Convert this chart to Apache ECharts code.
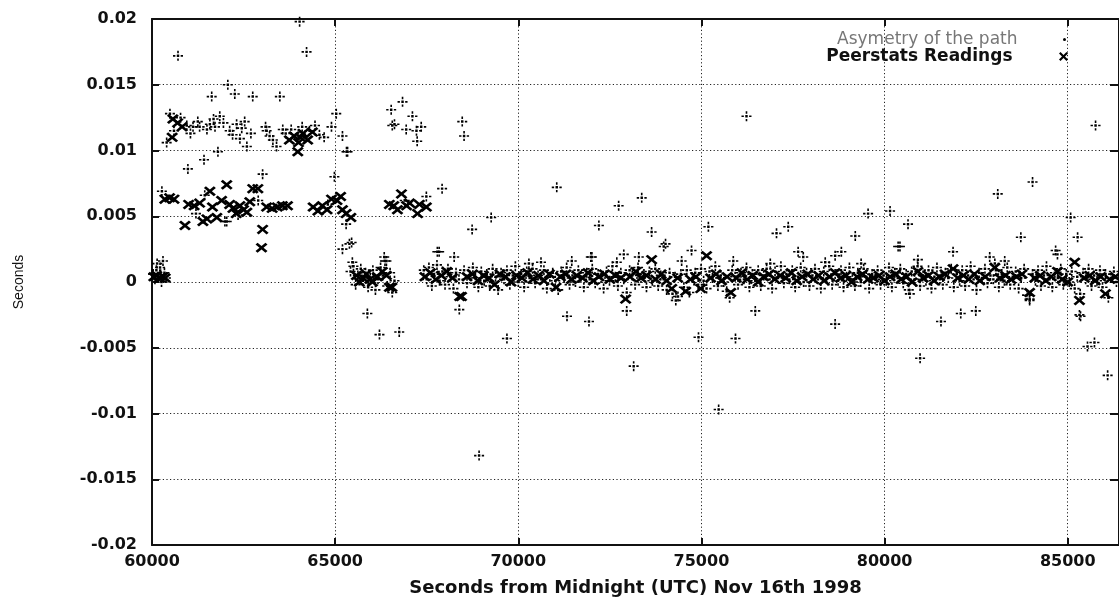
<!DOCTYPE html>
<html>
<head>
<meta charset="utf-8">
<script src="https://cdn.jsdelivr.net/npm/echarts@6/dist/echarts.min.js"></script>
<style>
    html, body { margin: 0; padding: 0; background: #fff; }
    #chart { width: 1119px; height: 605px; }
</style>
</head>
<body>
<div id="chart"></div>
<script>
// values: [seconds from midnight, seconds]
var asymStart = [[60030,0.0006],[60080,0.0002],[60120,0.0009],[60170,0.0004],[60220,0.0011],[60260,0.0000],[60300,0.0016],[60340,0.0007],[60380,0.0003],[60140,0.0014]];

var asymUpper = [[60710,0.0172],[64030,0.0198],[64220,0.0175],[62070,0.0150],[62260,0.0143],[62750,0.0141],[61630,0.0141],[63490,0.0141],
    [65030,0.0128],[60490,0.0128],[60400,0.0106],[60950,0.0119],[61120,0.0118],[61300,0.0118],[61580,0.0120],[61720,0.0118],[61850,0.0126],
    [62120,0.0115],[62310,0.0120],[62530,0.0122],[62400,0.0109],[62590,0.0103],[63130,0.0115],[63210,0.0111],[63400,0.0103],[63570,0.0116],
    [64570,0.0112],[64900,0.0118],[65200,0.0111],[65340,0.0099],[61800,0.0099],[61420,0.0093],[60980,0.0086],[63020,0.0082],[64980,0.0080],
    [60600,0.0115],[60780,0.0125],[61050,0.0113],[61250,0.0122],[61500,0.0116],[61680,0.0124],[61950,0.0121],[62200,0.0112],[62450,0.0117],
    [62700,0.0113],[63300,0.0108],[63650,0.0113],[63800,0.0116],[64100,0.0118],[64300,0.0115],[64450,0.0119],[64700,0.0110],[63100,0.0118],
    [65310,0.0099],[66530,0.0131],[66620,0.0120],[66840,0.0137],[67110,0.0126],[66560,0.0119],[66940,0.0116],[67220,0.0115],[67350,0.0118],
    [67240,0.0107],[68470,0.0122],[68520,0.0111]];

var asymMiddle = [[60270,0.0069],[61200,0.0052],[61440,0.0066],[61990,0.0046],[62040,0.0046],[62350,0.0051],[62900,0.0062],[64800,0.0059],
    [65300,0.0044],[66900,0.0062],[65390,0.0029],[65200,0.0025],[65450,0.0030],[67920,0.0071],[67490,0.0065],[68740,0.0040],[69260,0.0049],
    [71050,0.0072],[72740,0.0058],[73370,0.0064],[72200,0.0043],[73640,0.0038],[73970,0.0027],[76230,0.0126],[75190,0.0042],[77050,0.0037],
    [85760,0.0119],[84040,0.0076],[83090,0.0067],[77370,0.0042],[79200,0.0035],[79550,0.0052],[80150,0.0054],[80640,0.0044],[80370,0.0027],
    [83720,0.0034],[85080,0.0049],[85270,0.0034],[84670,0.0024],[74020,0.0029],[80420,0.0027]];

var asymLow = [[65880,-0.0024],[66210,-0.0040],[66750,-0.0038],[68390,-0.0021],[69690,-0.0043],[68930,-0.0132],[71330,-0.0026],[71930,-0.0030],
    [72960,-0.0022],[73150,-0.0064],[74920,-0.0042],[75470,-0.0097],[75930,-0.0043],[76470,-0.0022],[78650,-0.0032],[80970,-0.0058],
    [81540,-0.0030],[82080,-0.0024],[82490,-0.0022],[80690,-0.0009],[83960,-0.0013],[85320,-0.0025],[85540,-0.0049],[85730,-0.0046],
    [86090,-0.0071],[74300,-0.0014],[85350,-0.0026]];

var asymNearZero = [[66340,0.0019],[67840,0.0023],[68250,0.0019],[66400,0.0016],[65470,0.0015],[72010,0.0019],[72880,0.0021],[74730,0.0024],
    [67790,0.0023],[81870,0.0023],[77640,0.0023],[78650,0.0020],[73290,0.0019],[71980,0.0019],[71460,0.0016],[72690,0.0015],[74460,0.0016],
    [70290,0.0014],[70620,0.0015],[77780,0.0019],[75870,0.0016],[78820,0.0023],[79360,0.0014],[76880,0.0014],[78380,0.0015],[80910,0.0017],
    [82870,0.0019],[83280,0.0016],[84720,0.0021],[83010,0.0014],
    [65420,0.0008],[65500,0.0012],[65560,-0.0002],[65620,0.0005],[65700,0.0010],[65760,0.0001],[65830,0.0007],[65900,-0.0004],[65960,0.0003],
    [66030,0.0009],[66100,-0.0006],[66170,0.0002],[66240,0.0011],[66300,0.0005],[66360,0.0016],[66420,-0.0003],[66500,0.0007],[66560,-0.0008],[66620,0.0001]];

var asymBand = [[67420,0.0009],[67500,0.0002],[67560,0.0011],[67640,-0.0003],[67700,0.0006],[67780,0.0013],[67850,0.0001],[67930,0.0008],
    [68000,-0.0002],[68080,0.0010],[68150,0.0004],[68230,-0.0005],[68300,0.0007],[68380,0.0002],[68520,0.0009],[68600,-0.0001],[68680,0.0005],
    [68760,0.0011],[68830,0.0003],[68910,-0.0004],[68990,0.0008],[69070,0.0001],[69140,0.0006],[69220,-0.0003],[69300,0.0010],[69380,0.0004],
    [69450,-0.0006],[69530,0.0007],[69610,0.0002],[69690,0.0009],[69770,-0.0002],[69850,0.0005],[69920,0.0012],[70000,0.0000],[70080,0.0006],
    [70160,-0.0004],[70230,0.0008],[70310,0.0003],[70390,0.0010],[70460,-0.0001],[70540,0.0005],[70620,0.0002],[70700,0.0009],[70780,-0.0005],
    [70860,0.0004],[70940,0.0007],[71010,0.0001],[71090,-0.0006],[71170,0.0008],[71250,0.0003],[71320,0.0011],[71400,-0.0002],[71480,0.0005],
    [71560,0.0000],[71640,0.0009],[71710,0.0004],[71790,-0.0004],[71870,0.0007],[71950,0.0002],[72020,0.0010],[72100,-0.0001],[72180,0.0006],
    [72260,0.0003],[72330,-0.0005],[72410,0.0008],[72490,0.0001],[72570,0.0012],[72650,0.0004],[72720,-0.0003],[72800,0.0007],[72880,0.0002],
    [72960,-0.0008],[73040,0.0009],[73110,0.0005],[73190,-0.0002],[73270,0.0011],[73350,0.0003],[73430,0.0006],[73500,-0.0004],[73580,0.0008],
    [73660,0.0001],[73740,0.0010],[73820,-0.0003],[73890,0.0005],[73970,0.0002],[74050,-0.0006],[74130,0.0007],[74210,-0.0009],[74280,0.0004],
    [74360,-0.0011],[74440,0.0006],[74520,-0.0004],[74600,0.0009],[74670,-0.0008],[74750,0.0003],[74830,0.0007],[74910,-0.0002],[74990,0.0010],
    [75060,0.0001],[75140,-0.0005],[75220,0.0008],[75300,0.0003],[75380,0.0012],[75450,-0.0003],[75530,0.0005],[75610,0.0000],[75690,-0.0007],
    [75770,-0.0012],[75840,0.0009],[75920,0.0004],[76000,-0.0002],[76080,0.0007],[76160,0.0002],[76230,0.0011],[76310,-0.0004],[76390,0.0006],
    [76470,0.0001],[76550,0.0009],[76620,-0.0003],[76700,0.0005],[76780,0.0010],[76860,0.0002],[76930,-0.0005],[77010,0.0008],[77090,0.0003],
    [77170,0.0012],[77250,-0.0001],[77320,0.0006],[77400,0.0002],[77480,0.0009],[77560,-0.0004],[77640,0.0004],[77710,0.0011],[77790,0.0000],
    [77870,0.0007],[77950,-0.0003],[78030,0.0005],[78100,0.0010],[78180,0.0002],[78260,-0.0005],[78340,0.0008],[78420,0.0003],[78490,0.0012],
    [78570,-0.0002],[78650,0.0006],[78730,0.0001],[78810,0.0009],[78880,-0.0004],[78960,0.0004],[79040,0.0011],[79120,0.0002],[79190,-0.0003],
    [79270,0.0007],[79350,0.0000],[79430,0.0010],[79500,0.0004],[79580,-0.0005],[79660,0.0006],[79740,0.0002],[79810,0.0009],[79890,-0.0002],
    [79970,0.0005],[80050,0.0001],[80120,0.0011],[80200,-0.0004],[80280,0.0007],[80360,0.0003],[80430,0.0010],[80510,-0.0001],[80590,0.0006],
    [80660,-0.0006],[80740,0.0008],[80820,0.0002],[80900,0.0012],[80970,-0.0003],[81050,0.0005],[81130,0.0001],[81200,0.0009],[81280,-0.0005],
    [81360,0.0004],[81430,0.0011],[81510,0.0002],[81590,-0.0002],[81660,0.0007],[81740,0.0003],[81820,0.0010],[81890,-0.0004],[81970,0.0006],
    [82050,0.0001],[82120,0.0009],[82200,-0.0003],[82280,0.0005],[82350,0.0012],[82430,0.0002],[82510,-0.0006],[82580,0.0007],[82660,0.0003],
    [82740,0.0010],[82810,-0.0001],[82890,0.0005],[82970,0.0002],[83040,0.0009],[83120,-0.0004],[83200,0.0006],[83270,0.0001],[83350,0.0011],
    [83430,-0.0002],[83500,0.0004],[83580,0.0008],[83660,-0.0005],[83730,0.0003],[83810,0.0010],[83890,-0.0010],[83960,-0.0014],[84040,0.0006],
    [84120,0.0001],[84190,0.0009],[84270,-0.0003],[84350,0.0005],[84420,0.0012],[84500,0.0002],[84580,-0.0004],[84650,0.0007],[84730,0.0003],
    [84810,0.0010],[84880,-0.0002],[84960,0.0006],[85040,0.0000],[85110,0.0008],[85190,-0.0005],[85260,0.0004],[85340,-0.0009],[85420,0.0007],
    [85490,0.0002],[85570,0.0010],[85650,-0.0003],[85720,0.0005],[85800,0.0001],[85880,0.0009],[85950,-0.0004],[86030,0.0006],[86110,-0.0012],
    [86180,0.0003],[86260,0.0008],[86330,0.0000]];

var peerEarly = [[60050,0.0004],[60130,0.0005],[60210,0.0003],[60290,0.0004],[60360,0.0003],
    [60570,0.0124],[60700,0.0121],[60820,0.0118],[60550,0.0110],
    [63750,0.0108],[63880,0.0111],[64000,0.0106],[64120,0.0113],[64250,0.0108],[64380,0.0114],[64050,0.0110],[63980,0.0099],
    [60350,0.0063],[60480,0.0064],[60600,0.0063],[60900,0.0043],[61000,0.0059],[61150,0.0058],[61300,0.0060],[61390,0.0046],[61500,0.0048],
    [61580,0.0069],[61650,0.0057],[61770,0.0049],[61900,0.0062],[62040,0.0074],[62120,0.0059],[62210,0.0056],[62300,0.0052],[62400,0.0058],
    [62500,0.0055],[62590,0.0053],[62670,0.0061],[62750,0.0071],[62890,0.0071],[63020,0.0040],[62990,0.0026],[63130,0.0057],[63280,0.0056],
    [63420,0.0057],[63560,0.0058],[63700,0.0058],[64400,0.0057],[64530,0.0054],[64650,0.0058],[64780,0.0055],[64900,0.0063],[65050,0.0062],
    [65150,0.0065],[65200,0.0055],[65300,0.0052],[65430,0.0049],[66480,0.0059],[66600,0.0058],[66810,0.0067],[66700,0.0055],[66950,0.0058],
    [67030,0.0060],[67250,0.0052],[67300,0.0059],[67490,0.0057],
    [65580,0.0005],[65660,0.0000],[65760,0.0003],[65850,0.0006],[65950,0.0002],[66020,0.0000],[66150,0.0004],[66290,0.0008],[66400,0.0005],
    [66480,-0.0004],[66550,-0.0004]];

var peerBand = [[67450,0.0004],[67600,0.0007],[67750,0.0002],[67900,0.0005],[68050,0.0008],[68200,0.0003],[68400,-0.0011],[68450,-0.0011],
    [68600,0.0004],[68750,0.0006],[68900,0.0001],[69050,0.0005],[69200,0.0003],[69350,-0.0002],[69500,0.0006],[69650,0.0004],[69800,0.0000],
    [69950,0.0005],[70100,0.0003],[70250,0.0007],[70400,0.0002],[70550,0.0005],[70700,0.0001],[70850,0.0006],[71030,-0.0004],[71150,0.0004],
    [71300,0.0006],[71450,0.0002],[71600,0.0005],[71750,0.0003],[71900,0.0007],[72050,0.0001],[72200,0.0004],[72350,0.0006],[72500,0.0002],
    [72650,0.0005],[72800,0.0003],[72930,-0.0013],[73050,0.0004],[73210,0.0008],[73350,0.0003],[73500,0.0005],[73640,0.0017],[73750,0.0002],
    [73900,0.0006],[74050,0.0001],[74190,-0.0005],[74350,0.0003],[74570,-0.0007],[74700,0.0002],[74850,0.0004],[74980,-0.0005],[75140,0.0020],
    [75250,0.0003],[75400,0.0006],[75550,0.0001],[75700,0.0004],[75800,-0.0008],[75950,0.0003],[76100,0.0007],[76250,0.0002],[76400,0.0005],
    [76550,0.0000],[76700,0.0004],[76850,0.0006],[77000,0.0002],[77150,0.0005],[77300,0.0003],[77450,0.0007],[77600,0.0001],[77750,0.0004],
    [77900,0.0006],[78050,0.0002],[78200,0.0005],[78350,0.0001],[78500,0.0004],[78650,0.0007],[78800,0.0003],[78950,0.0005],[79100,0.0000],
    [79250,0.0004],[79400,0.0006],[79550,0.0002],[79700,0.0003],[79850,0.0005],[80000,0.0001],[80150,0.0004],[80300,0.0006],[80450,0.0002],
    [80600,0.0004],[80750,0.0000],[80910,0.0008],[81050,0.0003],[81200,0.0005],[81350,0.0001],[81500,0.0004],[81650,0.0006],[81870,0.0010],
    [82000,0.0003],[82150,0.0005],[82300,0.0002],[82450,0.0006],[82600,0.0001],[82750,0.0004],[83010,0.0011],[83150,0.0003],[83300,0.0005],
    [83450,0.0002],[83600,0.0004],[83750,0.0006],[83960,-0.0008],[84100,0.0003],[84250,0.0005],[84400,0.0001],[84550,0.0004],[84720,0.0008],
    [84850,0.0002],[85000,0.0000],[85190,0.0015],[85320,-0.0014],[85450,0.0003],[85600,0.0005],[85750,0.0001],[85900,0.0004],[86030,-0.0009],
    [86150,0.0002],[86300,0.0004]];

var xExtent = [60000, 86400];
var yExtent = [-0.02, 0.02];
var seriesNames = ['Asymetry of the path', 'Peerstats Readings'];
var xTitle = 'Seconds from Midnight (UTC) Nov 16th 1998';
var yTitle = 'Seconds';

// dotted plus used by the asymmetry series, bold cross for peerstats
var plusPath = 'path://M3.9,0h1.5v2.2h-1.5z M3.9,7.1h1.5v2.2h-1.5z M0,3.9h2.2v1.5h-2.2z M7.1,3.9h2.2v1.5h-2.2z M3.5,3.5h2.3v2.3h-2.3z';
var crossPath = 'path://M0,1.7L1.7,0L5,3.3L8.3,0L10,1.7L6.7,5L10,8.3L8.3,10L5,6.7L1.7,10L0,8.3L3.3,5Z';

var chart = echarts.init(document.getElementById('chart'));

var gridLine = {show: true, lineStyle: {color: '#222', width: 1, type: [1.2, 2.4]}};
var frameLine = {show: true, onZero: false, lineStyle: {color: '#111', width: 2}};
var tickFont = {color: '#111', fontFamily: 'DejaVu Sans', fontWeight: 'bold', fontSize: 16};

var option = {
    animation: false,
    backgroundColor: '#fff',
    grid: {left: 152, top: 19, right: -2, bottom: 60, show: false},
    legend: [{
        data: [{name: seriesNames[0], icon: 'circle'}],
        align: 'right', orient: 'vertical',
        right: 53, top: 31, padding: 0,
        itemWidth: 84, itemHeight: 3,
        textStyle: {color: '#777', fontFamily: 'DejaVu Sans', fontSize: 17}
    }, {
        data: [{name: seriesNames[1], icon: crossPath}],
        align: 'right', orient: 'vertical',
        right: 51, top: 48, padding: 0,
        itemWidth: 92, itemHeight: 9,
        textStyle: {color: '#111', fontFamily: 'DejaVu Sans', fontWeight: 'bold', fontSize: 17}
    }],
    xAxis: [{
        type: 'value', position: 'bottom',
        min: xExtent[0], max: xExtent[1], interval: 5000,
        name: xTitle, nameLocation: 'middle', nameGap: 34,
        nameTextStyle: {color: '#111', fontFamily: 'DejaVu Sans', fontWeight: 'bold', fontSize: 18},
        axisLine: frameLine,
        axisTick: {show: true, inside: true, length: 7, lineStyle: {color: '#111', width: 2}},
        axisLabel: Object.assign({margin: 9, showMaxLabel: false, formatter: function (v) { return String(v); }}, tickFont),
        splitLine: gridLine
    }, {
        type: 'value', position: 'top',
        min: xExtent[0], max: xExtent[1], interval: 5000,
        axisLine: frameLine,
        axisTick: {show: true, inside: true, length: 7, lineStyle: {color: '#111', width: 2}},
        axisLabel: {show: false},
        splitLine: {show: false}
    }],
    yAxis: [{
        type: 'value', position: 'left',
        min: yExtent[0], max: yExtent[1], interval: 0.005,
        name: yTitle, nameLocation: 'middle', nameGap: 126, nameRotate: 90,
        nameTextStyle: {color: '#111', fontFamily: 'Liberation Sans', fontSize: 14},
        axisLine: frameLine,
        axisTick: {show: true, inside: true, length: 7, lineStyle: {color: '#111', width: 2}},
        axisLabel: Object.assign({margin: 15}, tickFont),
        splitLine: gridLine
    }, {
        type: 'value', position: 'right',
        min: yExtent[0], max: yExtent[1], interval: 0.005,
        axisLine: frameLine,
        axisTick: {show: true, inside: true, length: 9, lineStyle: {color: '#111', width: 2}},
        axisLabel: {show: false},
        splitLine: {show: false}
    }],
    series: [{
        name: seriesNames[0],
        type: 'scatter',
        symbol: plusPath,
        symbolSize: 10,
        itemStyle: {color: '#000', opacity: 1},
        data: [].concat(asymStart, asymUpper, asymMiddle, asymLow, asymNearZero, asymBand)
    }, {
        name: seriesNames[1],
        type: 'scatter',
        symbol: crossPath,
        symbolSize: [12, 10],
        itemStyle: {color: '#000', opacity: 1},
        data: [].concat(peerEarly, peerBand)
    }]
};

chart.setOption(option);
</script>
</body>
</html>
